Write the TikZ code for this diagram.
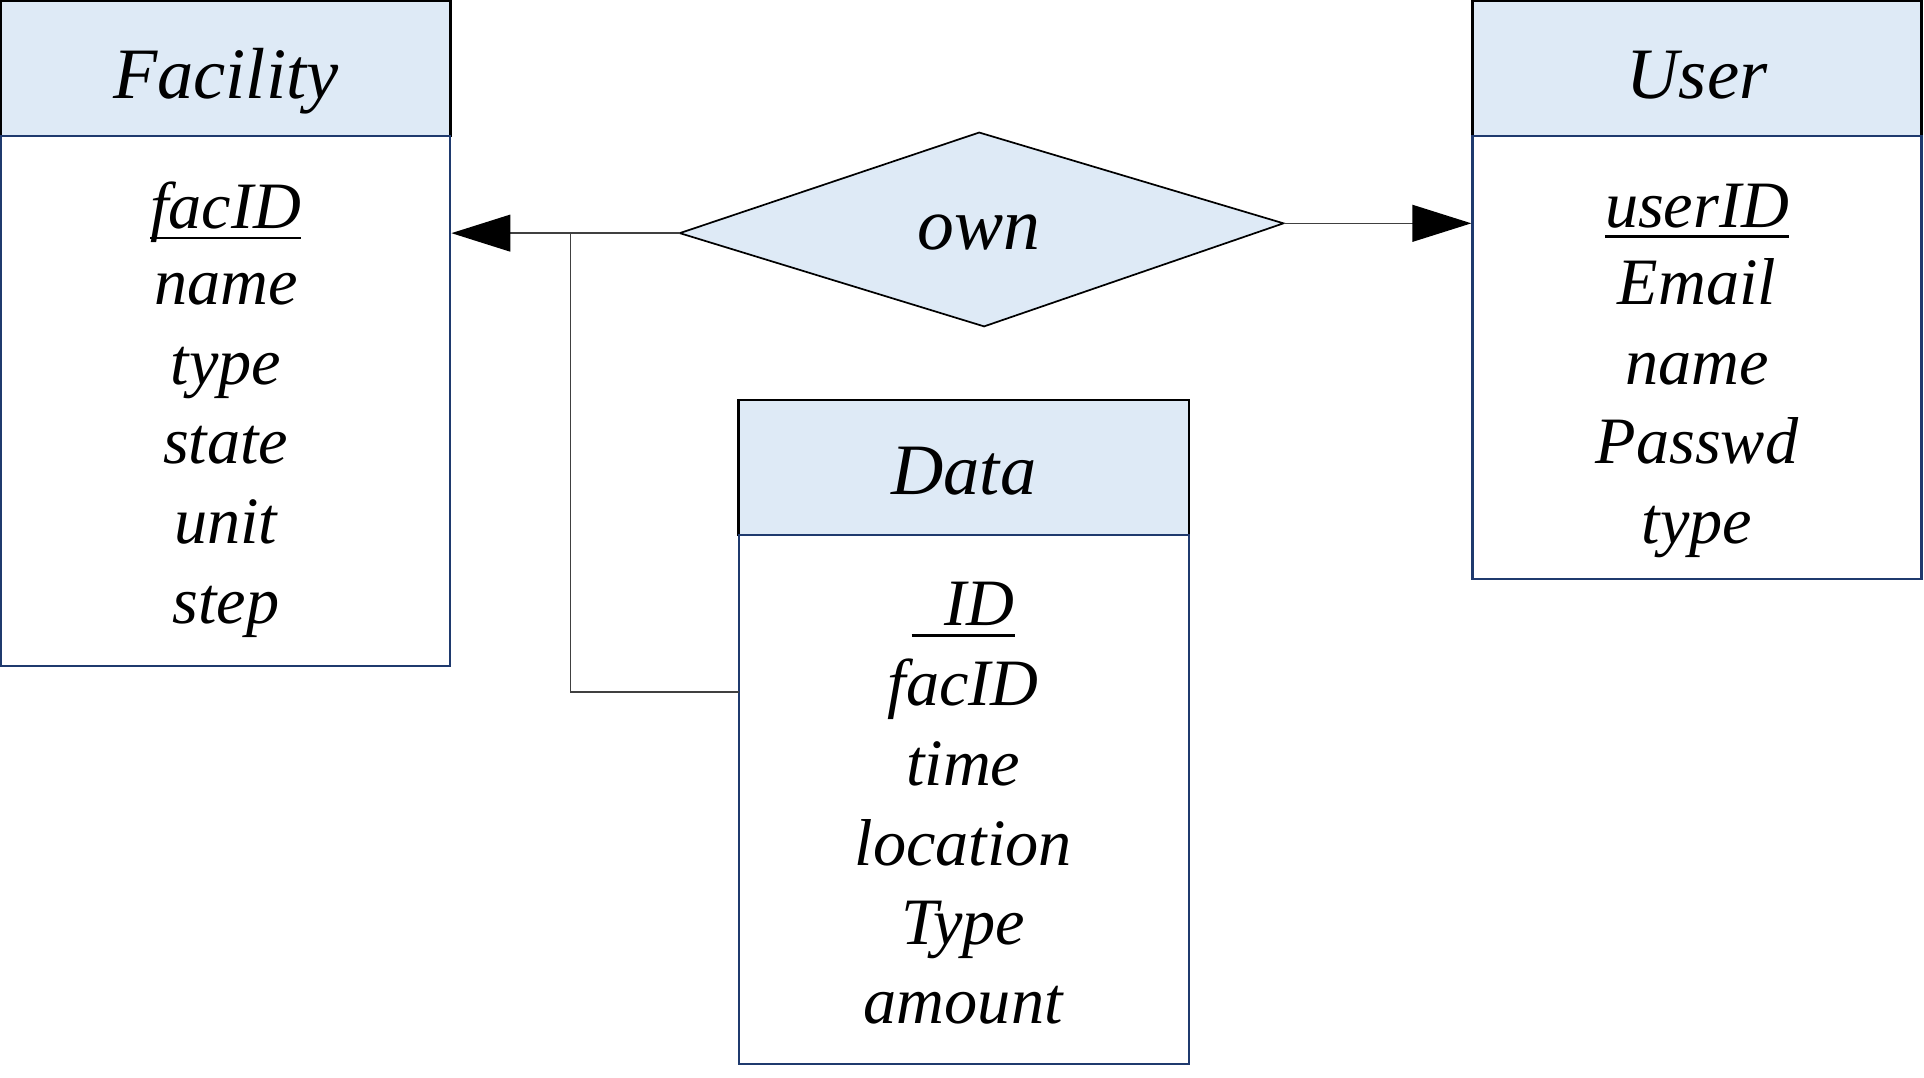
\documentclass[tikz,border=0pt]{standalone}
\usepackage{fontspec}
\setmainfont{Liberation Serif}
\usetikzlibrary{arrows.meta}
\definecolor{hdrfill}{HTML}{DEEAF6}
\definecolor{navyline}{HTML}{1F3A6E}
\newcommand\mykeyul[1]{\setbox0\hbox{#1}\rlap{\rule[-0.17em]{\wd0}{0.045em}}\box0}
\begin{document}
\begin{tikzpicture}[x=0.5pt,y=-0.5pt,
  hdr/.style={draw=black, fill=hdrfill, line width=1pt, minimum width=183pt,
    minimum height=55pt, inner sep=0pt, font=\fontsize{29.5}{35}\selectfont\itshape},
  bodybox/.style={draw=navyline, fill=white, line width=0.9pt, minimum width=183pt, inner sep=0pt},
  attr/.style={anchor=base, inner sep=0pt, font=\fontsize{27}{32}\selectfont\itshape},
  reltext/.style={anchor=base, inner sep=0pt, font=\fontsize{30}{36}\selectfont\itshape},
  conn/.style={draw=black!75, line width=0.6pt},
  tip/.style={-{Triangle[length=24pt,width=15pt,color=black,fill=black]}}
]
\useasboundingbox (0,0) rectangle (1568,878);

% Facility
\node[hdr, text height=30pt, text depth=6pt] (fhead) at (184,56) {Facility};
\node[bodybox, minimum height=216pt] (fbody) at (184,327) {};
\node[attr] (f1) at (184,186) {\mykeyul{facID}};
\node[attr] (f2) at (184,248) {name};
\node[attr] (f3) at (184,313) {type};
\node[attr] (f4) at (184,378) {state};
\node[attr] (f5) at (184,443) {unit};
\node[attr] (f6) at (184,508) {step};

% User
\node[hdr, text height=30pt, text depth=6pt] (uhead) at (1383,56) {User};
\node[bodybox, minimum height=180.5pt] (ubody) at (1383,291.5) {};
\node[attr] (u1) at (1383,185) {\mykeyul{userID}};
\node[attr] (u2) at (1383,248) {Email};
\node[attr] (u3) at (1383,313) {name};
\node[attr] (u4) at (1383,378) {Passwd};
\node[attr] (u5) at (1383,443) {type};

% Data
\node[hdr, minimum width=183.5pt, text height=28pt, text depth=6pt] (dhead) at (785.5,381) {Data};
\node[bodybox, minimum width=183.5pt, minimum height=215.5pt] (dbody) at (785.5,651.5) {};
\node[attr] (d1) at (785,510) {\mykeyul{\hspace{0.5em}ID}};
\node[attr] (d2) at (785,575) {facID};
\node[attr] (d3) at (785,640) {time};
\node[attr] (d4) at (785,705) {location};
\node[attr] (d5) at (785,770) {Type};
\node[attr] (d6) at (785,834) {amount};

% Relationship diamond
\coordinate (dL) at (554,190);
\coordinate (dT) at (798,108);
\coordinate (dR) at (1046,182);
\coordinate (dB) at (802,266);
\draw[fill=hdrfill, draw=black, line width=0.7pt, line join=miter] (dL) -- (dT) -- (dR) -- (dB) -- cycle;
\node[reltext] (own) at (798,203) {own};

% Connectors
\coordinate (junc) at (465,190);
\coordinate (dconn) at (602,564);
\draw[conn, tip] (dL) -- (dL -| fbody.east);
\draw[conn, tip] (dR) -- (dR -| ubody.west);
\draw[conn] (dconn) -| (junc);
\end{tikzpicture}
\end{document}
